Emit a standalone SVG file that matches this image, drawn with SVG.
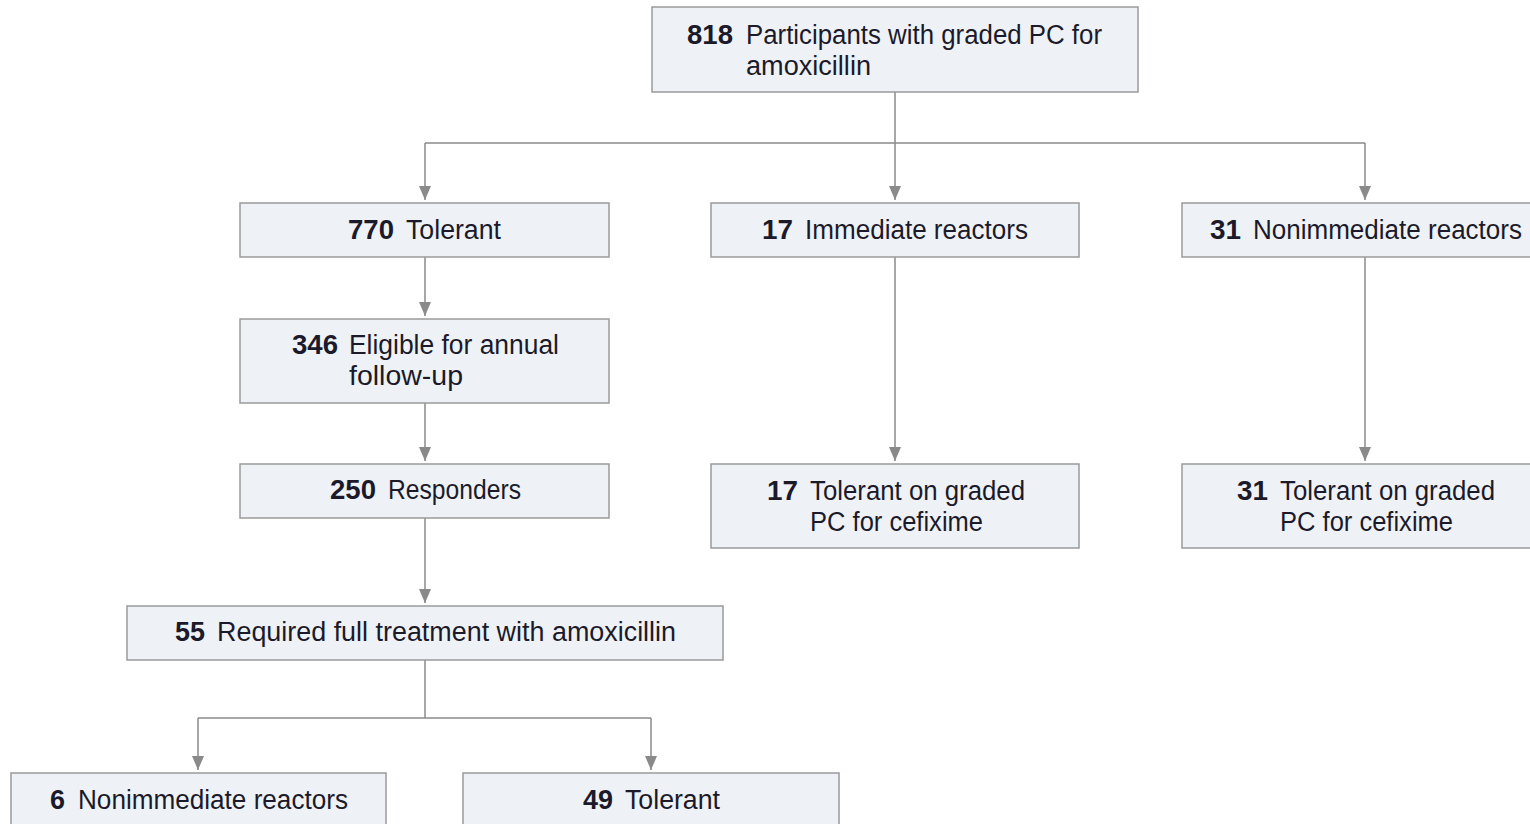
<svg xmlns="http://www.w3.org/2000/svg" width="1530" height="824" viewBox="0 0 1530 824">
<style>
.box{fill:#eef2f6;stroke:#9a9a9a;stroke-width:1.5}
.t{font-family:"Liberation Sans Narrow","Liberation Sans",sans-serif;font-size:27px;fill:#1c1a2a}
.n{font-weight:bold}
.c{fill:none;stroke:#8a8a8a;stroke-width:1.5}
</style>
<defs>
<marker id="ah" viewBox="0 0 14 12" refX="14" refY="6" markerWidth="14" markerHeight="12" markerUnits="userSpaceOnUse" orient="auto"><path d="M0,0 L14,6 L0,12 z" fill="#8a8a8a"/></marker>
</defs>
<rect width="1530" height="824" fill="#fff"/>
<g id="connectors">
<path class="c" d="M895,92 V200" marker-end="url(#ah)"/>
<path class="c" d="M425,143 H1365"/>
<path class="c" d="M425,143 V200" marker-end="url(#ah)"/>
<path class="c" d="M1365,143 V200" marker-end="url(#ah)"/>
<path class="c" d="M425,257 V316" marker-end="url(#ah)"/>
<path class="c" d="M425,403 V461" marker-end="url(#ah)"/>
<path class="c" d="M425,518 V603" marker-end="url(#ah)"/>
<path class="c" d="M425,660 V718 M198,718 H651"/>
<path class="c" d="M198,718 V770" marker-end="url(#ah)"/>
<path class="c" d="M651,718 V770" marker-end="url(#ah)"/>
<path class="c" d="M895,257 V461" marker-end="url(#ah)"/>
<path class="c" d="M1365,257 V461" marker-end="url(#ah)"/>
</g>
<g id="n818"><rect class="box" x="652" y="7" width="486" height="85"/>
<text class="t n" x="687" y="44" textLength="46" lengthAdjust="spacingAndGlyphs">818</text>
<text class="t" x="746" y="44" textLength="356" lengthAdjust="spacingAndGlyphs">Participants with graded PC for</text>
<text class="t" x="746" y="75" textLength="125" lengthAdjust="spacingAndGlyphs">amoxicillin</text></g>
<g id="n770"><rect class="box" x="240" y="203" width="369" height="54"/>
<text class="t n" x="348" y="239" textLength="46" lengthAdjust="spacingAndGlyphs">770</text>
<text class="t" x="406" y="239" textLength="95" lengthAdjust="spacingAndGlyphs">Tolerant</text></g>
<g id="n17i"><rect class="box" x="711" y="203" width="368" height="54"/>
<text class="t n" x="762" y="239" textLength="31" lengthAdjust="spacingAndGlyphs">17</text>
<text class="t" x="805" y="239" textLength="223" lengthAdjust="spacingAndGlyphs">Immediate reactors</text></g>
<g id="n31n"><rect class="box" x="1182" y="203" width="360" height="54"/>
<text class="t n" x="1210" y="239" textLength="31" lengthAdjust="spacingAndGlyphs">31</text>
<text class="t" x="1253" y="239" textLength="269" lengthAdjust="spacingAndGlyphs">Nonimmediate reactors</text></g>
<g id="n346"><rect class="box" x="240" y="319" width="369" height="84"/>
<text class="t n" x="292" y="354" textLength="46" lengthAdjust="spacingAndGlyphs">346</text>
<text class="t" x="349" y="354" textLength="210" lengthAdjust="spacingAndGlyphs">Eligible for annual</text>
<text class="t" x="349" y="385" textLength="114" lengthAdjust="spacingAndGlyphs">follow-up</text></g>
<g id="n250"><rect class="box" x="240" y="464" width="369" height="54"/>
<text class="t n" x="330" y="499" textLength="46" lengthAdjust="spacingAndGlyphs">250</text>
<text class="t" x="388" y="499" textLength="133" lengthAdjust="spacingAndGlyphs">Responders</text></g>
<g id="n17t"><rect class="box" x="711" y="464" width="368" height="84"/>
<text class="t n" x="767" y="500" textLength="31" lengthAdjust="spacingAndGlyphs">17</text>
<text class="t" x="810" y="500" textLength="215" lengthAdjust="spacingAndGlyphs">Tolerant on graded</text>
<text class="t" x="810" y="531" textLength="173" lengthAdjust="spacingAndGlyphs">PC for cefixime</text></g>
<g id="n31t"><rect class="box" x="1182" y="464" width="360" height="84"/>
<text class="t n" x="1237" y="500" textLength="31" lengthAdjust="spacingAndGlyphs">31</text>
<text class="t" x="1280" y="500" textLength="215" lengthAdjust="spacingAndGlyphs">Tolerant on graded</text>
<text class="t" x="1280" y="531" textLength="173" lengthAdjust="spacingAndGlyphs">PC for cefixime</text></g>
<g id="n55"><rect class="box" x="127" y="606" width="596" height="54"/>
<text class="t n" x="175" y="641" textLength="30" lengthAdjust="spacingAndGlyphs">55</text>
<text class="t" x="217" y="641" textLength="459" lengthAdjust="spacingAndGlyphs">Required full treatment with amoxicillin</text></g>
<g id="n6"><rect class="box" x="11" y="773" width="375" height="70"/>
<text class="t n" x="50" y="809" textLength="15" lengthAdjust="spacingAndGlyphs">6</text>
<text class="t" x="78" y="809" textLength="270" lengthAdjust="spacingAndGlyphs">Nonimmediate reactors</text></g>
<g id="n49"><rect class="box" x="463" y="773" width="376" height="70"/>
<text class="t n" x="583" y="809" textLength="30" lengthAdjust="spacingAndGlyphs">49</text>
<text class="t" x="625" y="809" textLength="95" lengthAdjust="spacingAndGlyphs">Tolerant</text></g>
</svg>
